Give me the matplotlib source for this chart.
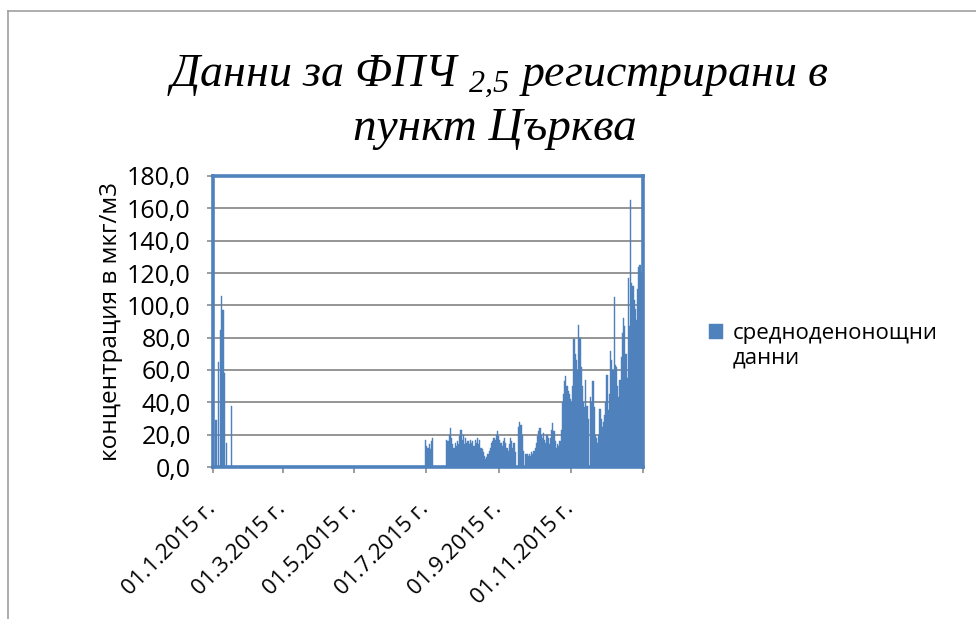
import numpy as np
import pandas as pd
import matplotlib
matplotlib.use("Agg")
import matplotlib.pyplot as plt
import matplotlib.transforms as mtransforms
from matplotlib.patches import Rectangle
from matplotlib.legend_handler import HandlerPatch
from matplotlib.lines import Line2D

# daily PM2.5 values (mkg/m3); None = no data
jan_dates = ["2015-01-03", "2015-01-05", "2015-01-07", "2015-01-08",
             "2015-01-09", "2015-01-10", "2015-01-12", "2015-01-16"]
jan_values = [29, 65, 85, 106, 97, 58, 15, 38]

h2_start = "2015-06-30"
h2_values = (
    [17, 13, 12, 14, 11, 16, 18]
    + [None] * 11
    + [17, 16, 20, 24, 18, 14, 12, 15, 13, 16,
       14, 19, 23, 17, 20, 14, 18, 15, 16, 14,
       17, 15, 16, 13, 17, 15, 18, 14, 17, 12,
       11, 9, 7, 5, 6, 8, 10, 12, 15, 16,
       18, 17, 20, 22, 19, 17, 15, 13, 16, 18,
       15, 12, 10, 14, 18, 16, 12, 15, 9]
    + [None, None]
    + [25, 28, 26, 20, 10]
    + [None]
    + [8, 8, 7, 8, 7, 9, 8, 10, 12, 15,
       19, 22, 24, 20, 18, 21, 17, 15, 20, 18,
       14, 18, 23, 27, 22, 16, 12, 14, 13, 16,
       23, 40, 45, 53, 56, 50, 47, 45, 42, 40,
       50, 79, 70, 66, 60, 88, 80, 62, 50, 40,
       37, 54, 38, 30]
    + [None]
    + [43, 40, 53, 37, 20, 18, 15, 20, 36, 30,
       25, 28, 32, 40, 57, 35, 45, 72, 66, 60,
       105, 63, 62, 50, 43, 54, 68, 83, 92, 87,
       70, 55, 117, 87, 165, 114, 112, 103, 98, 91,
       110, 124, 125, 120, 122]
)

tick_dates = ["2015-01-01", "2015-03-01", "2015-05-01", "2015-07-01",
              "2015-09-01", "2015-11-01", "2016-01-01"]
tick_labels = ["01.1.2015 г.", "01.3.2015 г.", "01.5.2015 г.", "01.7.2015 г.",
               "01.9.2015 г.", "01.11.2015 г.", ""]
yticks = np.arange(0, 181, 20)

title1 = "Данни за ФПЧ $_{2{,}5}$ регистрирани в"
title2 = "пункт Църква"
ylabel = "концентрация в мкг/м3"
series_label = "средноденонощни\nданни"

blue = "#4F81BD"
grid_gray = "#8C8C8C"

plt.rcParams['font.family'] = ['Open Sans', 'DejaVu Sans']
plt.rcParams['mathtext.fontset'] = 'custom'
plt.rcParams['mathtext.rm'] = 'Liberation Serif:italic'
plt.rcParams['mathtext.it'] = 'Liberation Serif:italic'

s = pd.concat([
    pd.Series(jan_values, index=pd.to_datetime(jan_dates), dtype=float),
    pd.Series(h2_values, index=pd.date_range(h2_start, periods=len(h2_values)), dtype=float),
]).dropna()

fig = plt.figure(figsize=(9.76, 6.19), dpi=100)
ax = fig.add_axes([213 / 976, 1 - 467 / 619, 430 / 976, 291 / 619])

ax.bar(s.index, s.values, width=1.0, align='edge', color=blue,
       edgecolor=blue, linewidth=0.3, label=series_label, zorder=2)

ax.set_xlim(pd.Timestamp("2015-01-01"), pd.Timestamp("2016-01-01"))
ax.set_ylim(0, 180)
ax.set_yticks(yticks)
ax.set_yticklabels([f"{v:.1f}".replace(".", ",") for v in yticks], fontsize=18)
ax.set_xticks(pd.to_datetime(tick_dates))
ax.set_xticklabels(tick_labels, rotation=45, ha='right', va='top',
                   rotation_mode='anchor', fontsize=16)
ax.tick_params(axis='both', color=grid_gray, length=4, width=1.2)
ax.tick_params(axis='x', pad=14)
ax.tick_params(axis='y', pad=12)
ax.yaxis.grid(True, color=grid_gray, linewidth=1.3, zorder=0)
ax.set_axisbelow(True)
for sp in ax.spines.values():
    sp.set_color(blue)
    sp.set_linewidth(2.6)
ax.set_ylabel(ylabel, fontsize=17.5, labelpad=3)

# nudge the rotated date labels, like Excel places them
shift = mtransforms.ScaledTranslation(-8 / 100, -6 / 100, fig.dpi_scale_trans)
for lbl in ax.get_xticklabels():
    lbl.set_transform(lbl.get_transform() + shift)

def shifted_box(legend, orig_handle, xdescent, ydescent, width, height, fontsize):
    return Rectangle((-xdescent, -ydescent + 0.65 * fontsize), width, height)

fig.legend(handles=ax.containers[0].patches[:1], labels=[series_label],
           loc='upper left', bbox_to_anchor=(689 / 976, 1 - 303 / 619),
           frameon=False, fontsize=16, handlelength=0.62, handleheight=0.62,
           handletextpad=0.45, handler_map={Rectangle: HandlerPatch(patch_func=shifted_box)})

fig.text(0.51, 1 - 87 / 619, title1, ha='center', va='baseline', fontsize=33,
         family='Liberation Serif', style='italic')
fig.text(0.507, 1 - 140 / 619, title2, ha='center', va='baseline', fontsize=34,
         family='Liberation Serif', style='italic')

fig.add_artist(Line2D([8 / 976, 1], [1 - 11 / 619, 1 - 11 / 619], color='#A0A0A0', lw=1.2))
fig.add_artist(Line2D([8 / 976, 8 / 976], [0, 1 - 11 / 619], color='#A0A0A0', lw=1.2))

fig.savefig("out.png", dpi=100)
